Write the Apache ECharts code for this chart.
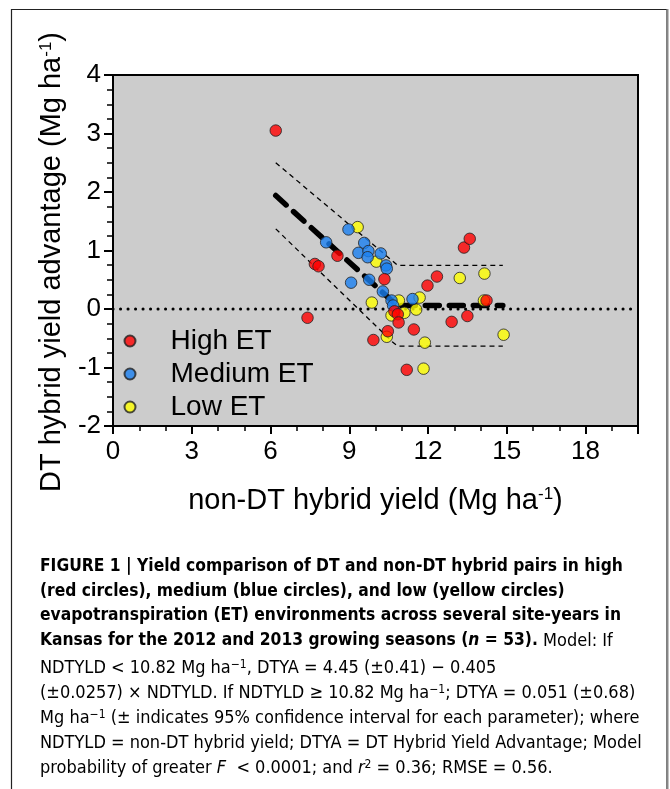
<!DOCTYPE html>
<html>
<head>
<meta charset="utf-8">
<script src="https://cdn.jsdelivr.net/npm/echarts@6/dist/echarts.min.js"></script>
<style>
html,body{margin:0;padding:0;background:#fff;}
#chart{width:670px;height:789px;}
</style>
</head>
<body>
<div id="chart"></div>
<script>
// ---- data ----
const seriesNames = ['High ET', 'Medium ET', 'Low ET'];

const highX = [6.20, 7.69, 7.83, 7.41, 8.55, 9.92, 10.34, 10.47, 10.72, 10.85, 10.88, 11.46, 11.19, 11.98, 12.34, 13.37, 13.59, 13.50, 12.90, 14.23];
const highY = [3.05, 0.77, 0.73, -0.15, 0.91, -0.53, 0.51, -0.38, -0.04, -0.09, -0.23, -0.35, -1.04, 0.40, 0.555, 1.05, 1.20, -0.12, -0.22, 0.145];

const mediumX = [8.12, 8.97, 9.57, 9.35, 9.73, 9.70, 10.20, 10.40, 10.43, 9.07, 9.76, 10.28, 10.61, 10.67, 11.41];
const mediumY = [1.14, 1.36, 1.13, 0.96, 0.99, 0.885, 0.95, 0.745, 0.69, 0.45, 0.50, 0.30, 0.145, 0.06, 0.17];

const lowX = [9.32, 10.03, 9.86, 10.89, 11.68, 11.10, 11.55, 10.61, 10.43, 11.88, 11.83, 13.21, 14.15, 14.13, 14.88];
const lowY = [1.40, 0.81, 0.11, 0.145, 0.195, -0.065, -0.01, -0.11, -0.475, -0.575, -1.02, 0.53, 0.605, 0.145, -0.44];

// model fit (segmented) and 95% band, as drawn
const fitX = [6.2, 10.82, 14.85];
const fitY = [1.94, 0.06, 0.06];
const upperX = [6.2, 10.6, 10.85, 14.85];
const upperY = [2.50, 0.84, 0.745, 0.745];
const lowerX = [6.2, 10.66, 10.85, 14.85];
const lowerY = [1.37, -0.57, -0.635, -0.635];
const zeroX = [0, 20];
const zeroY = [0, 0];

const xTickLabels = [0, 3, 6, 9, 12, 15, 18];
const yTickLabels = [-2, -1, 0, 1, 2, 3, 4];

const zip = (xs, ys) => xs.map((x, i) => [x, ys[i]]);

const colors = { 'High ET': '#ff0000', 'Medium ET': '#1a80f0', 'Low ET': '#ffff00' };
const pointBorder = { borderColor: '#222', borderWidth: 1 };

const FONT = "'Liberation Sans', Arial, Helvetica, sans-serif";
const CAPFONT = "'Liberation Sans Narrow', 'DejaVu Sans Condensed', 'Liberation Sans', Arial, sans-serif";

const chart = echarts.init(document.getElementById('chart'), null, { renderer: 'canvas' });

function lineSeries(xs, ys, width, dash, cap) {
  return {
    type: 'line', data: zip(xs, ys), showSymbol: false, symbol: 'none', silent: true,
    lineStyle: { color: '#000', width: width, type: dash, cap: cap || 'butt' },
    z: 2
  };
}

const capRich = {
  b: { fontFamily: CAPFONT, fontSize: 17.3, fontWeight: 'bold', color: '#231f20' },
  bi: { fontFamily: CAPFONT, fontSize: 17.3, fontWeight: 'bold', fontStyle: 'italic', color: '#231f20' },
  r: { fontFamily: CAPFONT, fontSize: 18, color: '#333' },
  i: { fontFamily: CAPFONT, fontSize: 18, fontStyle: 'italic', color: '#333' },
  s: { fontFamily: CAPFONT, fontSize: 12, color: '#333', verticalAlign: 'top', lineHeight: 18 }
};

const captionLines = [
  '{b|FIGURE 1 | Yield comparison of DT and non-DT hybrid pairs in high}',
  '{b|(red circles), medium (blue circles), and low (yellow circles)}',
  '{b|evapotranspiration (ET) environments across several site-years in}',
  '{b|Kansas for the 2012 and 2013 growing seasons (}{bi|n}{b| = 53).}{r| Model: If}',
  '{r|NDTYLD < 10.82 Mg ha}{s|\u22121}{r|, DTYA = 4.45 (\u00b10.41) \u2212 0.405}',
  '{r|(\u00b10.0257) \u00d7 NDTYLD. If NDTYLD \u2265 10.82 Mg ha}{s|\u22121}{r|; DTYA = 0.051 (\u00b10.68)}',
  '{r|Mg ha}{s|\u22121}{r| (\u00b1 indicates 95% confidence interval for each parameter); where}',
  '{r|NDTYLD = non-DT hybrid yield; DTYA = DT Hybrid Yield Advantage; Model}',
  '{r|probability of greater }{i|F}{r|  < 0.0001; and }{i|r}{s|2}{r| = 0.36; RMSE = 0.56.}'
];
const captionY = [566, 591, 615, 640, 667, 692, 717, 742, 767];

const graphics = [
  { type: 'rect', silent: true, z: 0,
    shape: { x: 11.5, y: 9.5, width: 655.5, height: 800 },
    style: { fill: 'none', stroke: '#222', lineWidth: 1.2 } },
  { type: 'line', silent: true, z: 0,
    shape: { x1: 667.5, y1: 9, x2: 667.5, y2: 789 },
    style: { stroke: '#888', lineWidth: 2 } }
].concat(captionLines.map((t, i) => ({
  type: 'text', silent: true, left: 40, top: captionY[i] - 8,
  style: { text: t, rich: capRich, fontFamily: CAPFONT, fontSize: 18 }
})));

const option = {
  animation: false,
  backgroundColor: '#fff',
  grid: { left: 113, top: 75, width: 525, height: 351, show: true,
          backgroundColor: '#cccccc', borderColor: '#000', borderWidth: 2, containLabel: false },
  legend: {
    data: seriesNames, orient: 'vertical', left: 118.5, top: 322,
    itemWidth: 11, itemHeight: 11, itemGap: 5,
    textStyle: { fontFamily: FONT, fontSize: 28, color: '#000', padding: [0, 0, 0, 30] },
    selectedMode: false
  },
  xAxis: {
    type: 'value', min: 0, max: 20, interval: 3,
    name: '{a|non-DT hybrid yield (Mg ha}{s|-1}{a|)}',
    nameLocation: 'middle', nameGap: 60,
    nameTextStyle: { rich: {
      a: { fontFamily: FONT, fontSize: 29, color: '#000' },
      s: { fontFamily: FONT, fontSize: 17, color: '#000', verticalAlign: 'top', lineHeight: 29 } } },
    axisLine: { show: true, onZero: false, lineStyle: { color: '#000', width: 2 } },
    axisTick: { show: true, inside: false, length: 8, lineStyle: { color: '#000', width: 2 } },
    minorTick: { show: true, splitNumber: 3, length: 5, lineStyle: { color: '#000', width: 1.5 } },
    axisLabel: { show: true, margin: 13, fontFamily: FONT, fontSize: 26, color: '#000', showMaxLabel: false,
      formatter: v => xTickLabels.indexOf(v) >= 0 ? String(v) : '' },
    splitLine: { show: false }
  },
  yAxis: {
    type: 'value', min: -2, max: 4, interval: 1,
    name: '{a|DT hybrid yield advantage (Mg ha}{s|-1}{a|)}',
    nameLocation: 'middle', nameGap: 38, nameRotate: 90,
    nameTextStyle: { padding: [0, 23, 0, 0], rich: {
      a: { fontFamily: FONT, fontSize: 29, color: '#000' },
      s: { fontFamily: FONT, fontSize: 17, color: '#000', verticalAlign: 'top', lineHeight: 29 } } },
    axisLine: { show: true, onZero: false, lineStyle: { color: '#000', width: 2 } },
    axisTick: { show: true, inside: false, length: 9, lineStyle: { color: '#000', width: 2 } },
    minorTick: { show: true, splitNumber: 4, length: 6, lineStyle: { color: '#000', width: 1.5 } },
    axisLabel: { show: true, margin: 12, fontFamily: FONT, fontSize: 26, color: '#000',
      formatter: v => yTickLabels.indexOf(v) >= 0 ? String(v) : '' },
    splitLine: { show: false }
  },
  graphic: graphics,
  series: [
    lineSeries(zeroX, zeroY, 3, [0.1, 7.4], 'round'),
    lineSeries(upperX, upperY, 1.3, [5, 4]),
    lineSeries(lowerX, lowerY, 1.3, [5, 4]),
    lineSeries(fitX, fitY, 5.5, [14, 10], 'round'),
    { name: 'Low ET', type: 'scatter', data: zip(lowX, lowY), symbol: 'circle', symbolSize: 11.5,
      itemStyle: Object.assign({ color: colors['Low ET'] }, pointBorder), z: 3 },
    { name: 'Medium ET', type: 'scatter', data: zip(mediumX, mediumY), symbol: 'circle', symbolSize: 11.5,
      itemStyle: Object.assign({ color: colors['Medium ET'] }, pointBorder), z: 3 },
    { name: 'High ET', type: 'scatter', data: zip(highX, highY), symbol: 'circle', symbolSize: 11.5,
      itemStyle: Object.assign({ color: colors['High ET'] }, pointBorder), z: 3 }
  ]
};
chart.setOption(option);
</script>
</body>
</html>
